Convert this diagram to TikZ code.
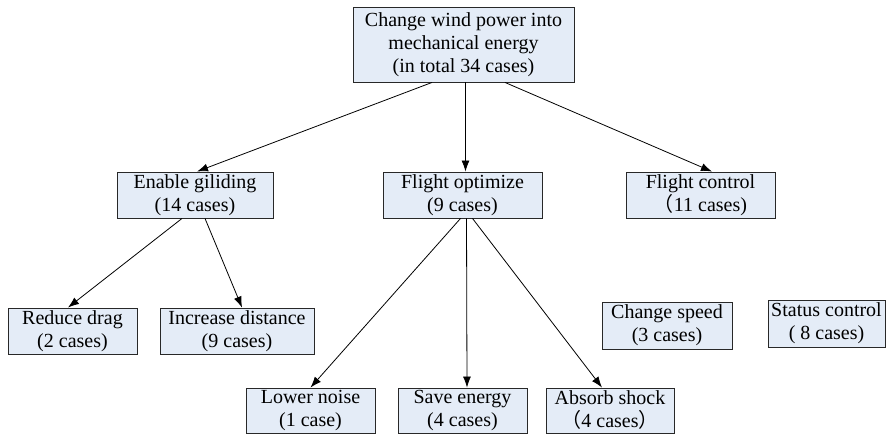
\documentclass[tikz,border=0pt]{standalone}
\usepackage{fontspec}
\setmainfont{Liberation Serif}
\newfontfamily\cjk{Noto Sans CJK SC}
\usetikzlibrary{arrows.meta}
\definecolor{boxfill}{RGB}{228,236,247}
\definecolor{boxline}{RGB}{40,40,40}
\tikzset{
  cbox/.style={draw=boxline,line width=0.9pt,fill=boxfill,rectangle,align=center,inner sep=0pt,
    font=\fontsize{20}{23}\selectfont},
  conn/.style={draw=black,line width=0.8pt,-{Latex[length=11pt,width=8pt]}}
}
\begin{document}
\begin{tikzpicture}[x=1pt,y=-1pt]
\useasboundingbox (0,0) rectangle (888,434);
\node[cbox,minimum width=221pt,minimum height=75pt] (top) at (463.5,44.5) {Change wind power into\\mechanical energy\\(in total 34 cases)};
\node[cbox,minimum width=156pt,minimum height=46pt] (enable) at (195,195) {Enable giliding\\(14 cases)};
\node[cbox,minimum width=159pt,minimum height=46pt] (optimize) at (462.5,195) {Flight optimize\\(9 cases)};
\node[cbox,minimum width=149pt,minimum height=46pt] (control) at (700.5,195) {Flight control\\{\cjk （}11 cases)};
\node[cbox,minimum width=129pt,minimum height=46pt] (reduce) at (72.5,331) {Reduce drag\\(2 cases)};
\node[cbox,minimum width=154pt,minimum height=46pt] (increase) at (237,331) {Increase distance\\(9 cases)};
\node[cbox,minimum width=130pt,minimum height=47pt] (speed) at (667,325.5) {Change speed\\(3 cases)};
\node[cbox,minimum width=117pt,minimum height=47pt] (status) at (826.5,323.5) {Status control\\( 8 cases)};
\node[cbox,minimum width=129pt,minimum height=45pt] (lower) at (310.5,410.5) {Lower noise\\(1 case)};
\node[cbox,minimum width=129pt,minimum height=45pt] (save) at (462.5,410.5) {Save energy\\(4 cases)};
\node[cbox,minimum width=128pt,minimum height=45pt] (absorb) at (610,410.5) {Absorb shock\\{\cjk （}4 cases{\cjk ）}};
\draw[conn] ([xshift=-31.5pt]top.south) -- ([xshift=2pt]enable.north);
\draw[conn] ([xshift=2pt]top.south) -- ([xshift=3pt]optimize.north);
\draw[conn] ([xshift=41.5pt]top.south) -- ([xshift=11.5pt]control.north);
\draw[conn] ([xshift=-13pt]enable.south) -- ([xshift=-4.5pt]reduce.north);
\draw[conn] ([xshift=10pt]enable.south) -- ([xshift=5pt]increase.north);
\draw[conn] ([xshift=-2pt]optimize.south) -- (lower.north);
\draw[conn] ([xshift=4pt]optimize.south) -- ([xshift=4.5pt]save.north);
\draw[conn] ([xshift=10pt]optimize.south) -- ([xshift=-8pt]absorb.north);
\end{tikzpicture}
\end{document}
